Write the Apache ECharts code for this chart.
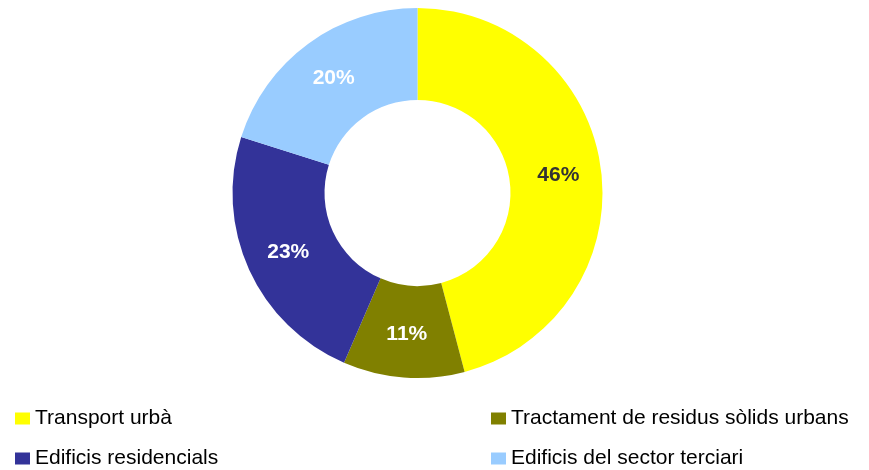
<!DOCTYPE html>
<html>
<head>
<meta charset="utf-8">
<script src="https://cdn.jsdelivr.net/npm/echarts@6/dist/echarts.min.js"></script>
<style>
  html, body { margin: 0; padding: 0; background: #fff; }
  #chart { width: 869px; height: 470px; }
</style>
</head>
<body>
<div id="chart"></div>
<script>
const categories = ['Transport urbà', 'Tractament de residus sòlids urbans', 'Edificis residencials', 'Edificis del sector terciari']
const values = [45.9, 10.6, 23.4, 20.1]
const colors = ['#ffff00', '#808000', '#333399', '#99ccff']
const labelColors = ['#333333', '#ffffff', '#ffffff', '#ffffff']

const chart = echarts.init(document.getElementById('chart'))
const legendText = { fontFamily: 'Liberation Sans, Arial, sans-serif', fontSize: 21, color: '#000' }

// one legend per item, placed in a 2x2 grid
const legendPos = [[15, 408], [491, 408], [15, 448], [491, 448]]
const legends = categories.map((name, i) => ({
  left: legendPos[i][0],
  top: legendPos[i][1],
  padding: 0,
  itemWidth: 15,
  itemHeight: 12,
  itemGap: 6,
  icon: 'rect',
  textStyle: legendText,
  data: [name]
}))

chart.setOption({
  animation: false,
  backgroundColor: '#fff',
  legend: legends,
  series: [{
    type: 'pie',
    center: [417.5, 193],
    radius: [93, 185],
    startAngle: 90,
    clockwise: true,
    silent: true,
    label: {
      show: true,
      position: 'inside',
      fontFamily: 'Liberation Sans, Arial, sans-serif',
      fontWeight: 'bold',
      fontSize: 21,
      formatter: p => Math.round(p.percent) + '%'
    },
    labelLine: { show: false },
    data: categories.map((name, i) => ({
      name,
      value: values[i],
      itemStyle: { color: colors[i] },
      label: { color: labelColors[i] }
    }))
  }]
})
</script>
</body>
</html>
